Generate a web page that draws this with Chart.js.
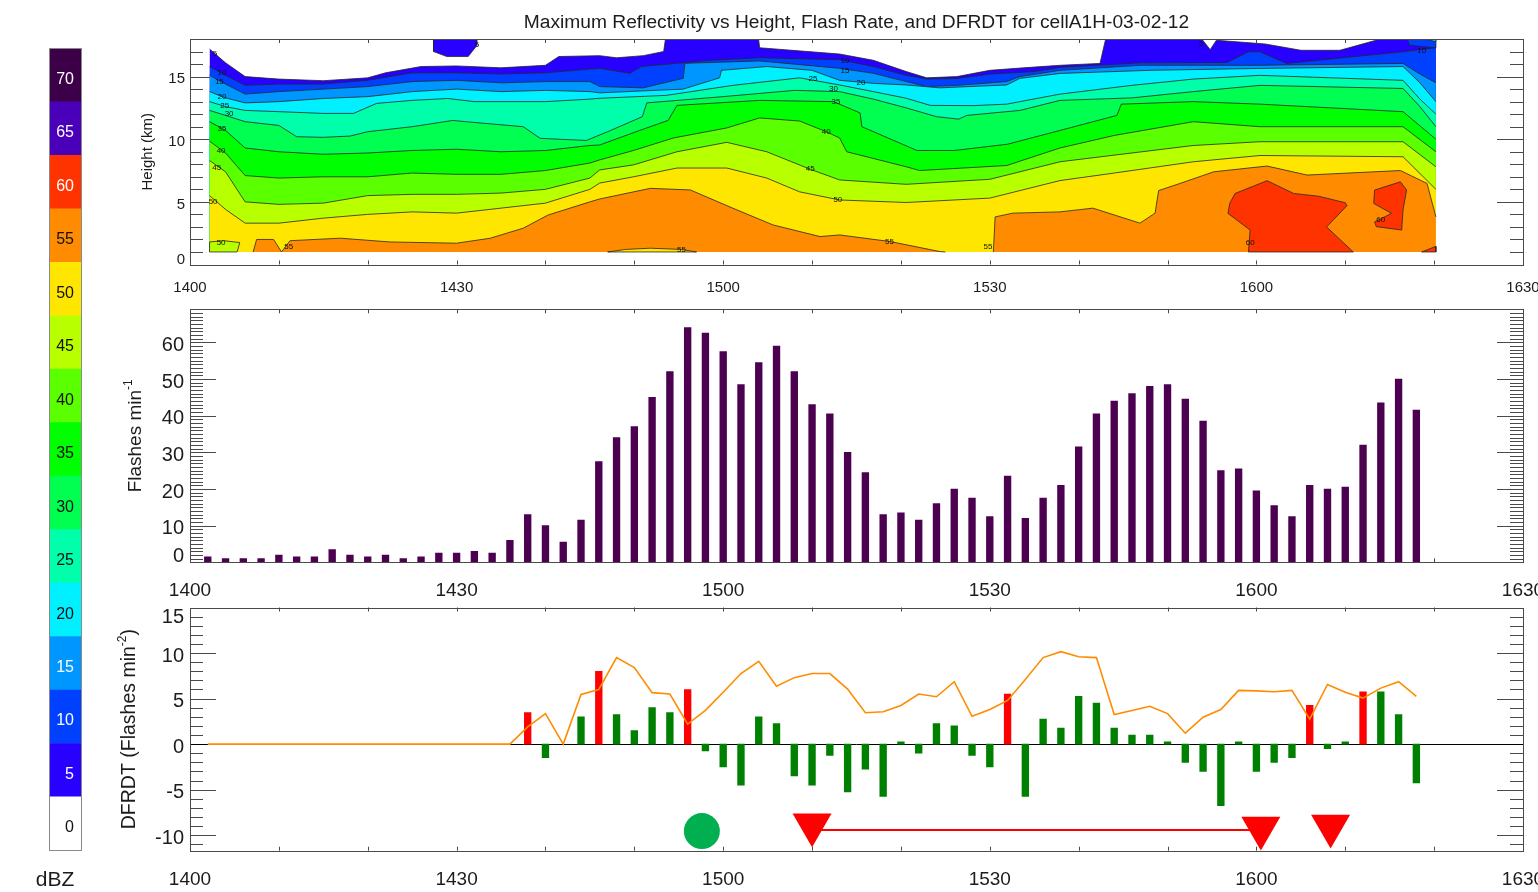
<!DOCTYPE html>
<html>
<head>
<meta charset="utf-8">
<title>cellA1H-03-02-12</title>
<script src="https://cdn.jsdelivr.net/npm/chart.js@4.4.1/dist/chart.umd.min.js"></script>
<style>
  html, body { margin: 0; padding: 0; background: #ffffff; }
  body { position: relative; width: 1538px; height: 892px; overflow: hidden; }
  canvas { position: absolute; left: 0; }
</style>
</head>
<body>
<canvas id="refl" width="1538" height="300" style="top:0px"></canvas>
<canvas id="rate" width="1538" height="300" style="top:300px"></canvas>
<canvas id="dfrdt" width="1538" height="292" style="top:600px"></canvas>
<canvas id="key" width="190" height="892" style="top:0px"></canvas>
<script>
const FONT = "'Liberation Sans', Arial, Helvetica, sans-serif";
const INK = '#1c1c1c';
const AXIS = '#4a4a4a';

// ---------- time axis (minutes after 14:00) ----------
const timeTicks = [0, 30, 60, 90, 120, 150];
const timeLabels = ['1400', '1430', '1500', '1530', '1600', '1630'];

const heightTicks = [0, 5, 10, 15];
const rateTicks = [0, 10, 20, 30, 40, 50, 60];
const dfrdtTicks = [-10, -5, 0, 5, 10, 15];

// ---------- reflectivity colour key ----------
const dbzLevels = [0, 5, 10, 15, 20, 25, 30, 35, 40, 45, 50, 55, 60, 65, 70];
const dbzColors = ['#ffffff', '#2800ff', '#0040ff', '#0096ff', '#00f0ff', '#00ffaa', '#00ff50',
                   '#00ff00', '#5aff00', '#b8ff00', '#ffe600', '#ff8c00', '#ff3300', '#4a00b8', '#3c0048'];
const dbzLightText = [false, true, true, true, false, false, false, false, false, false, false, false, true, true, true];
const dbzStep = 5;

// ---------- max reflectivity contours: [minute, height km] ----------
const c5 = [[2.2,17.2],[4,16.1],[6.2,15.0],[10,14.8],[15,14.67],[20,14.9],[22,15.3],[26,15.8],[30,15.85],[35,15.7],[40,15.9],[41.5,16.6],[46.1,16.67],[48,16.5],[51,16.67],[53.3,17.0],[53.6,18.5],[63.9,18.5],[64.1,17.3],[73.1,16.8],[76.9,16.3],[80.6,15.4],[82.9,14.9],[86.3,15.0],[90,15.5],[93.8,15.7],[97.9,15.9],[102.4,16.05],[103.2,18.5],[113.3,18.5],[114.8,17.15],[115.5,17.9],[121,17.6],[125,17.1],[129.4,17.1],[136.5,18.5],[140.2,18.5]];
const c10 = [[2.2,15.8],[4,15.1],[6.2,14.3],[10,14.4],[15,14.4],[20,14.7],[25,15.3],[30,15.3],[35,15.2],[40,15.3],[45,15.6],[46.1,15.66],[49.5,15.26],[50.8,15.8],[58.5,16.3],[64.1,16.5],[73.1,16.35],[76.9,15.8],[80.6,15.1],[83,14.8],[86.3,14.85],[90,15.2],[95,15.4],[97.9,15.73],[107,16.1],[116.7,16.13],[119.1,16.98],[120.4,16.98],[123.4,16.05],[136.5,16.98],[140.2,17.3]];
const c15 = [[2.2,15.1],[4,14.4],[6.2,13.6],[10,13.8],[15,14.0],[20,14.2],[25,14.6],[30,14.7],[35,14.5],[40,14.6],[45,14.6],[46.1,14.2],[51,14.1],[55.5,14.86],[55.7,16.06],[64.1,16.25],[73.1,15.66],[76.9,15.26],[80.6,14.6],[82.9,14.2],[86.3,14.3],[91.9,14.6],[93.4,15.0],[97.9,15.5],[107,15.9],[120.4,15.9],[136.5,16.05],[138.4,15.2],[140.2,14.5]];
const c20 = [[2.2,13.8],[4,13.3],[6.2,12.9],[10,13.0],[15,13.25],[20,13.4],[25,13.8],[30,14.0],[35,13.8],[40,13.9],[45,13.8],[46.1,13.7],[55.5,14.0],[59.6,14.9],[59.8,15.5],[64.9,15.8],[70,15.5],[73.1,14.7],[76.9,14.46],[80.6,14.33],[84.4,14.1],[91.9,14.33],[93.4,14.86],[97.9,15.25],[108,15.5],[120.4,15.65],[136.5,15.8],[138.4,14.5],[140.2,13.0]];
const c25 = [[2.2,13.0],[4,12.6],[6.2,12.3],[10,12.2],[15,12.06],[18.4,12.06],[21,12.86],[25,13.1],[29,13.25],[32,13.0],[35,13.0],[40,13.0],[45,13.2],[46.1,13.27],[53.6,13.5],[61.1,14.3],[68.6,14.9],[73.1,14.33],[76.9,13.8],[80.6,13.27],[83.3,12.7],[88.1,12.68],[91.9,12.8],[97.9,13.6],[106,14.3],[112.9,14.8],[120.4,15.1],[136.5,14.7],[138.4,13.2],[140.2,12.0]];
const c30 = [[2.2,12.3],[4,11.9],[6.2,11.4],[10,11.1],[12,10.2],[15,10.15],[18,10.25],[20,10.6],[25,11.0],[29.6,11.5],[31,11.4],[37.5,11.0],[39.4,10.07],[44.6,9.9],[47,10.6],[50.9,11.8],[51.4,12.9],[60,13.4],[68,13.9],[73.1,13.8],[76.9,13.2],[80.6,12.5],[84,11.8],[86.5,11.6],[87.4,11.9],[93.4,12.3],[97.9,13.1],[106,13.3],[112.9,13.8],[120.4,14.3],[136.5,14.05],[138.4,12.6],[140.2,11.0]];
const c35 = [[2.2,11.4],[4,10.7],[6.2,9.3],[10,9.0],[15,8.8],[20,8.9],[25,9.1],[30,9.2],[35,9.0],[40,9.1],[45,9.5],[46.1,9.54],[50.6,10.7],[53.8,11.5],[54.8,12.7],[64.1,13.1],[72.4,13.0],[75.4,12.1],[75.6,11.0],[81.8,9.1],[86,9.1],[92,9.6],[97.9,10.7],[104.3,11.9],[104.8,12.8],[112.9,13.0],[120.4,12.8],[136.5,12.2],[140.2,10.0]];
const c40 = [[2.2,9.85],[4,8.9],[6.2,7.1],[10,6.9],[15,7.0],[20,7.0],[25,7.3],[30,7.2],[35,7.2],[40,7.5],[45,8.1],[46.1,8.35],[49.9,9.1],[54.4,10.1],[60.4,10.9],[64.1,11.7],[68.6,11.45],[71.6,10.6],[73.1,10.1],[73.9,9.0],[80.6,7.8],[82.1,7.5],[91.9,7.9],[97.9,9.3],[104,10.3],[112.9,11.4],[120.4,11.0],[136.5,11.0],[140.2,9.0]];
const c45 = [[2.2,8.3],[4,7.4],[6.2,5.0],[10,4.8],[15,4.9],[20,5.5],[25,5.6],[30,5.6],[35,5.7],[40,6.0],[45,6.9],[46.1,7.55],[49.9,7.95],[54.8,9.0],[60.4,9.75],[64.9,9.0],[69.8,7.6],[73.1,6.75],[80.6,6.4],[90,6.8],[97.9,8.2],[112.9,9.5],[120.4,9.8],[136.5,9.8],[140.2,7.8]];
const c50 = [[2.2,5.5],[4,4.4],[6.2,3.3],[10,3.3],[15,3.7],[20,4.0],[25,4.2],[30,4.1],[35,4.5],[40,4.9],[45,6.0],[46.1,6.5],[49.9,7.0],[54.8,7.7],[60.4,7.7],[64.9,6.9],[68.6,5.8],[73.1,5.15],[80.6,4.95],[90,5.3],[97.9,6.7],[104,7.3],[112.9,8.2],[120.4,8.7],[136.5,8.6],[140.2,6.0]];
const c55West = [[7.1,1.0],[7.5,2.0],[9.4,2.0],[10.3,1.0],[11.25,1.9],[16.9,2.1],[22.5,1.8],[30,1.7],[33.8,2.1],[37.5,2.9],[40.3,3.95],[45,5.0],[46.1,5.23],[51.8,6.08],[56.3,5.95],[61.1,4.49],[65.6,3.16],[70.9,2.23],[73.1,2.36],[78.8,1.83],[84.4,1.03],[85,1.0]];
const c55East = [[90.4,1.0],[90.6,3.8],[92.6,4.1],[97.9,4.2],[101.6,4.5],[106.9,3.3],[108.6,4.1],[109,5.9],[111.4,6.47],[115.2,7.4],[121.2,7.86],[125.7,7.14],[136.2,7.5],[139.2,6.47],[140.2,3.8]];
// closed cells
const cap5 = [[27.4,18.5],[27.4,17.0],[28.9,16.6],[31.3,16.6],[32.3,17.5],[32.3,18.5],[27.4,18.5]];
const cornerCell10 = [[136.8,18.5],[137.2,17.5],[140.2,17.3],[140.2,18.5],[136.8,18.5]];
const cornerCell20 = [[138.3,18.5],[138.8,18.0],[140.2,17.8],[140.2,18.5],[138.3,18.5]];
const pocket40 = [[2.2,1.0],[2.2,1.8],[3.8,1.9],[5.6,1.75],[5.3,1.0],[2.2,1.0]];
const pocket50 = [[47,1.0],[49,1.2],[51.8,1.3],[55.3,1.2],[57,1.0],[47,1.0]];
const core60a = [[116.8,4.08],[117.0,4.88],[117.6,5.67],[121.2,6.69],[124.2,5.67],[127,5.45],[130.0,4.93],[130.2,4.7],[127.9,3.0],[130.9,1.0],[119.1,1.0],[119.3,2.75],[116.8,4.08]];
const core60b = [[133.2,4.88],[133.3,5.94],[136.2,6.6],[136.9,5.94],[136.5,4.35],[136.35,2.75],[133.5,3.02],[133.3,3.4],[135.2,4.08],[133.2,4.88]];
const core60c = [[138.6,1.0],[140.2,1.45],[140.2,1.0],[138.6,1.0]];
// contour annotations: [minute, km, text]
const contourTags = [[2.8,16.85,'5'],[3.6,15.3,'10'],[3.3,14.6,'15'],[3.6,13.4,'20'],[3.9,12.65,'25'],[4.4,12.0,'30'],[3.6,10.8,'35'],[3.5,9.1,'40'],[3.0,7.7,'45'],[2.6,5.0,'50'],[3.5,1.7,'50'],[11.1,1.4,'55'],[32.3,17.5,'5'],[70.1,14.86,'25'],[72.4,14.0,'30'],[72.7,13.0,'35'],[71.6,10.6,'40'],[69.8,7.6,'45'],[72.9,5.15,'50'],[55.3,1.2,'55'],[73.7,16.25,'10'],[73.7,15.45,'15'],[75.5,14.5,'20'],[78.7,1.83,'55'],[89.8,1.4,'55'],[138.6,17.06,'10'],[119.3,1.7,'60'],[134,3.55,'60'],[113.8,17.65,'5']];

// ---------- total flash rate ----------
const flashMinutes = [2,4,6,8,10,12,14,16,18,20,22,24,26,28,30,32,34,36,38,40,42,44,46,48,50,52,54,56,58,60,62,64,66,68,70,72,74,76,78,80,82,84,86,88,90,92,94,96,98,100,102,104,106,108,110,112,114,116,118,120,122,124,126,128,130,132,134,136,138];
const flashRate = [1.5,1.0,1.0,1.0,2.0,1.5,1.5,3.5,2.0,1.5,2.0,1.0,1.5,2.5,2.5,3.0,2.5,6.0,13.0,10.0,5.5,11.5,27.5,34.0,37.0,45.0,52.0,64.0,62.5,57.5,48.5,54.5,59.0,52.0,43.0,40.5,30.0,24.5,13.0,13.5,11.5,16.0,20.0,17.5,12.5,23.5,12.0,17.5,21.0,31.5,40.5,44.0,46.0,48.0,48.5,44.5,38.5,25.0,25.5,19.5,15.5,12.5,21.0,20.0,20.5,32.0,43.5,50.0,41.5];

// ---------- DFRDT ----------
const dfrdtMinutes = [38,40,42,44,46,48,50,52,54,56,58,60,62,64,66,68,70,72,74,76,78,80,82,84,86,88,90,92,94,96,98,100,102,104,106,108,110,112,114,116,118,120,122,124,126,128,130,132,134,136,138];
const dfrdt = [3.45,-1.5,null,3.0,8.0,3.25,1.5,4.0,3.45,6.0,-0.75,-2.5,-4.5,3.0,2.25,-3.5,-4.5,-1.25,-5.25,-2.75,-5.75,0.25,-1.0,2.25,2.0,-1.25,-2.5,5.5,-5.75,2.75,1.75,5.25,4.5,1.75,1.0,1.0,0.25,-2.0,-3.0,-6.75,0.25,-3.0,-2.0,-1.5,4.25,-0.5,0.25,5.75,5.75,3.25,-4.25];
const jumpMinutes = [38, 46, 56, 92, 126, 132];
// jump threshold, sampled at flashMinutes
const sigmaLevel = [0,0,0,0,0,0,0,0,0,0,0,0,0,0,0,0,0,0,1.9,3.35,0,5.45,6.0,9.5,8.4,5.65,5.5,2.2,3.7,5.7,7.75,9.1,6.35,7.3,7.75,7.75,6.05,3.45,3.55,4.25,5.5,5.2,6.85,3.05,3.8,4.8,7.1,9.5,10.15,9.6,9.5,3.25,3.7,4.15,3.35,1.2,2.95,3.8,5.9,5.85,5.75,5.9,2.75,6.55,5.7,5.05,6.15,6.85,5.25];
const jumpOnset = [[57.6, -9.55]];
const severeReports = [[70, -8.85], [120.5, -9.2], [128.35, -9.0]];
const leadSpan = [[70, -9.42], [120.5, -9.42]];

// ---------- helpers ----------
const toPts = arr => arr.map(([x, y]) => ({x, y}));
const colorOf = lvl => dbzColors[dbzLevels.indexOf(lvl)];

function axesPlugin(o) {
  return {
    id: 'axes' + o.name,
    beforeDatasetsDraw(chart) {
      const {ctx, chartArea: a, scales: {x, y}} = chart;
      ctx.save();
      ctx.strokeStyle = AXIS;
      ctx.lineWidth = 1;
      ctx.beginPath();
      for (let k = Math.ceil(o.yMin); k <= Math.floor(o.yMax); k += 1) {
        const py = Math.round(y.getPixelForValue(k)) + 0.5;
        if (py <= a.top + 1 || py >= a.bottom - 1) continue;
        const len = (k % o.yMajor === 0) ? 26 : 13;
        ctx.moveTo(a.left, py); ctx.lineTo(a.left + len, py);
        ctx.moveTo(a.right, py); ctx.lineTo(a.right - len, py);
      }
      for (let m = 10; m < 150; m += 10) {
        const px = Math.round(x.getPixelForValue(m)) + 0.5;
        ctx.moveTo(px, a.top); ctx.lineTo(px, a.top + 4);
        ctx.moveTo(px, a.bottom); ctx.lineTo(px, a.bottom - 4);
      }
      ctx.stroke();
      if (o.zeroLine) {
        const py = Math.round(y.getPixelForValue(0)) + 0.5;
        ctx.strokeStyle = '#000';
        ctx.beginPath();
        ctx.moveTo(a.left, py); ctx.lineTo(a.right, py);
        ctx.stroke();
      }
      ctx.restore();
    },
    afterDatasetsDraw(chart) {
      const {ctx, chartArea: a} = chart;
      ctx.save();
      ctx.strokeStyle = AXIS;
      ctx.lineWidth = 1;
      ctx.strokeRect(Math.round(a.left) + 0.5, Math.round(a.top) + 0.5,
                     Math.round(a.right - a.left), Math.round(a.bottom - a.top));
      ctx.restore();
    },
    afterDraw(chart) {
      const {ctx, chartArea: a, scales: {x, y}} = chart;
      ctx.save();
      ctx.fillStyle = INK;
      ctx.textBaseline = 'alphabetic';
      ctx.font = `${o.xFont}px ${FONT}`;
      ctx.textAlign = 'center';
      timeTicks.forEach((m, i) => ctx.fillText(timeLabels[i], x.getPixelForValue(m), a.bottom + o.xDrop));
      ctx.font = `${o.yFont}px ${FONT}`;
      ctx.textAlign = 'right';
      const cap = 0.716 * o.yFont;
      o.yTicks.forEach(v => {
        let cy = y.getPixelForValue(v) + 1.5;
        cy = Math.min(Math.max(cy, a.top + cap / 2 + 1), a.bottom - cap / 2 - 0.5);
        ctx.fillText(String(v), o.yRight, cy + cap / 2);
      });
      ctx.restore();
      drawVerticalTitle(ctx, o.titleX, (a.top + a.bottom) / 2 + o.titleShift, o.titleParts);
      if (o.extra) o.extra(chart);
    }
  };
}

function drawVerticalTitle(ctx, cx, cy, parts) {
  ctx.save();
  ctx.translate(cx, cy);
  ctx.rotate(-Math.PI / 2);
  ctx.fillStyle = INK;
  ctx.textAlign = 'left';
  ctx.textBaseline = 'alphabetic';
  let total = 0;
  parts.forEach(p => { ctx.font = `${p.size}px ${FONT}`; p.w = ctx.measureText(p.text).width; total += p.w; });
  let u = -total / 2;
  const base = 0.36 * parts[0].size;
  parts.forEach(p => {
    ctx.font = `${p.size}px ${FONT}`;
    ctx.fillText(p.text, u, base - (p.raise || 0));
    u += p.w;
  });
  ctx.restore();
}

const baseOptions = (padding, yMin, yMax) => ({
  responsive: false,
  maintainAspectRatio: false,
  animation: false,
  devicePixelRatio: 1,
  events: [],
  layout: { padding, autoPadding: false },
  plugins: { legend: { display: false }, tooltip: { enabled: false } },
  scales: {
    x: { type: 'linear', min: 0, max: 150, display: false, offset: false },
    y: { type: 'linear', min: yMin, max: yMax, display: false }
  }
});

// ---------- panel 1: reflectivity contours ----------
const layers = [
  [c5, 5, 'band'], [cap5, 5, 'shape'], [cornerCell10, 10, 'shape'], [cornerCell20, 20, 'shape'],
  [c10, 10, 'band'], [c15, 15, 'band'], [c20, 20, 'band'], [c25, 25, 'band'], [c30, 30, 'band'],
  [c35, 35, 'band'], [c40, 40, 'band'], [c45, 45, 'band'], [c50, 50, 'band'], [pocket40, 45, 'shape'],
  [c55West, 55, 'band'], [c55East, 55, 'band'], [pocket50, 50, 'shape'],
  [core60a, 60, 'shape'], [core60b, 60, 'shape'], [core60c, 60, 'shape']
];
const reflDatasets = layers.map(([arr, lvl, mode], i) => ({
  data: toPts(arr),
  backgroundColor: colorOf(lvl),
  borderColor: '#262626',
  borderWidth: 0.8,
  pointRadius: 0,
  tension: 0,
  fill: mode === 'band' ? { value: 1 } : 'shape',
  order: layers.length - i
}));

new Chart(document.getElementById('refl'), {
  type: 'line',
  data: { datasets: reflDatasets },
  options: baseOptions({ left: 190, right: 15, top: 39, bottom: 35.5 }, 0, 18),
  plugins: [
    {
      id: 'contourTags',
      afterDatasetsDraw(chart) {
        const {ctx, scales: {x, y}} = chart;
        ctx.save();
        ctx.fillStyle = '#111';
        ctx.font = `8px ${FONT}`;
        ctx.textAlign = 'center';
        ctx.textBaseline = 'middle';
        contourTags.forEach(([m, h, t]) => ctx.fillText(t, x.getPixelForValue(m), y.getPixelForValue(h)));
        ctx.restore();
      }
    },
    axesPlugin({
      name: 'Refl', yMin: 0, yMax: 18, yMajor: 5, yTicks: heightTicks,
      xFont: 15, xDrop: 27, yFont: 15, yRight: 185,
      titleX: 147, titleShift: 0, titleParts: [{ text: 'Height (km)', size: 15 }],
      extra(chart) {
        const {ctx, chartArea: a} = chart;
        const title = 'Maximum Reflectivity vs Height, Flash Rate, and DFRDT for cellA1H-03-02-12';
        ctx.save();
        ctx.font = `17px ${FONT}`;
        const w = ctx.measureText(title).width;
        const size = 17 * 666 / w;
        ctx.font = `${size.toFixed(2)}px ${FONT}`;
        ctx.fillStyle = INK;
        ctx.textAlign = 'center';
        ctx.textBaseline = 'alphabetic';
        ctx.fillText(title, (a.left + a.right) / 2, 28);
        ctx.restore();
      }
    })
  ]
});

// ---------- panel 2: flash rate ----------
new Chart(document.getElementById('rate'), {
  type: 'bar',
  data: {
    datasets: [{
      data: flashMinutes.map((m, i) => ({ x: m, y: flashRate[i] })),
      backgroundColor: '#4b0050',
      borderWidth: 0,
      barThickness: 6.7
    }]
  },
  options: baseOptions({ left: 190, right: 15, top: 9.3, bottom: 37.7 }, 0, 69),
  plugins: [axesPlugin({
    name: 'Rate', yMin: 0, yMax: 69, yMajor: 10, yTicks: rateTicks,
    xFont: 19, xDrop: 33.5, yFont: 20, yRight: 184,
    titleX: 134, titleShift: 0,
    titleParts: [{ text: 'Flashes min', size: 19 }, { text: '-1', size: 12, raise: 9 }]
  })]
});

// ---------- panel 3: DFRDT ----------
new Chart(document.getElementById('dfrdt'), {
  type: 'bar',
  data: {
    datasets: [
      {
        type: 'bar',
        data: dfrdtMinutes.map((m, i) => ({ x: m, y: dfrdt[i] })),
        backgroundColor: dfrdtMinutes.map(m => jumpMinutes.includes(m) ? '#ff0000' : '#008000'),
        borderWidth: 0,
        barThickness: 6.7,
        order: 4
      },
      {
        type: 'line',
        data: flashMinutes.map((m, i) => ({ x: m, y: sigmaLevel[i] })),
        borderColor: '#ff8c00',
        borderWidth: 1.6,
        pointRadius: 0,
        tension: 0,
        fill: false,
        order: 3
      },
      {
        type: 'line',
        data: toPts(leadSpan),
        borderColor: '#ff0000',
        borderWidth: 2,
        pointRadius: 0,
        fill: false,
        order: 2
      },
      {
        type: 'line',
        data: toPts(jumpOnset),
        showLine: false,
        pointStyle: 'circle',
        pointRadius: 18,
        pointBackgroundColor: '#00b050',
        pointBorderWidth: 0,
        order: 1
      },
      {
        type: 'line',
        data: toPts(severeReports),
        showLine: false,
        pointStyle: 'triangle',
        pointRotation: 180,
        pointRadius: 22.5,
        pointBackgroundColor: '#ff0000',
        pointBorderColor: '#ff0000',
        pointBorderWidth: 0,
        order: 0
      }
    ]
  },
  options: baseOptions({ left: 190, right: 15, top: 7.5, bottom: 41.3 }, -11.7, 15),
  plugins: [axesPlugin({
    name: 'Dfrdt', yMin: -11.7, yMax: 15, yMajor: 5, yTicks: dfrdtTicks, zeroLine: true,
    xFont: 19, xDrop: 34, yFont: 20, yRight: 184,
    titleX: 128, titleShift: 0,
    titleParts: [{ text: 'DFRDT (Flashes min', size: 19.5 }, { text: '-2', size: 12, raise: 9 }, { text: ')', size: 19.5 }]
  })]
});

// ---------- colour key ----------
new Chart(document.getElementById('key'), {
  type: 'bar',
  data: {
    labels: ['dBZ'],
    datasets: dbzLevels.map((lv, i) => ({
      data: [dbzStep],
      backgroundColor: dbzColors[i],
      borderWidth: 0,
      barPercentage: 1,
      categoryPercentage: 1
    }))
  },
  options: {
    responsive: false,
    maintainAspectRatio: false,
    animation: false,
    devicePixelRatio: 1,
    events: [],
    layout: { padding: { left: 49, right: 109, top: 48.4, bottom: 41.6 }, autoPadding: false },
    plugins: { legend: { display: false }, tooltip: { enabled: false } },
    scales: {
      x: { stacked: true, display: false },
      y: { stacked: true, display: false, min: 0, max: dbzStep * dbzLevels.length }
    }
  },
  plugins: [{
    id: 'keyLabels',
    afterDraw(chart) {
      const {ctx, chartArea: a, scales: {y}} = chart;
      ctx.save();
      ctx.strokeStyle = '#8a8a8a';
      ctx.lineWidth = 1;
      ctx.strokeRect(Math.round(a.left) + 0.5, Math.round(a.top) + 0.5,
                     Math.round(a.right - a.left), Math.round(a.bottom - a.top));
      ctx.font = `16px ${FONT}`;
      ctx.textAlign = 'right';
      ctx.textBaseline = 'alphabetic';
      dbzLevels.forEach((lv, i) => {
        const cy = y.getPixelForValue(i * dbzStep + dbzStep / 2) + 3;
        ctx.fillStyle = dbzLightText[i] ? '#ffffff' : '#111111';
        ctx.fillText(String(lv), 74, cy + 0.36 * 16);
      });
      ctx.fillStyle = INK;
      ctx.font = `21px ${FONT}`;
      ctx.textAlign = 'center';
      ctx.fillText('dBZ', 55, 886);
      ctx.restore();
    }
  }]
});
</script>
</body>
</html>
